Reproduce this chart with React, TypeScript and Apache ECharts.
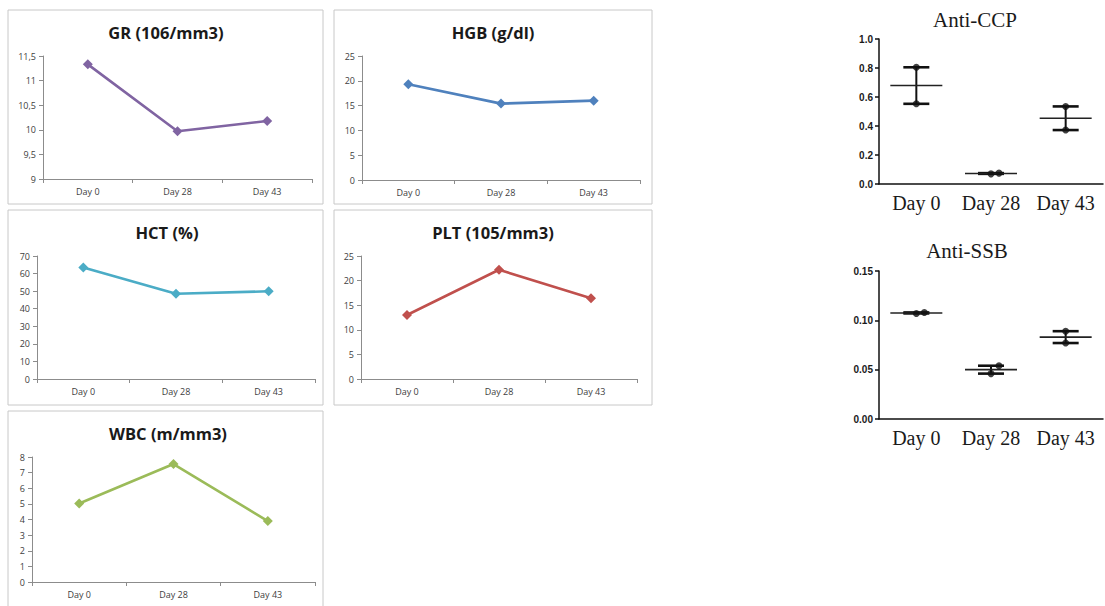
import React, { useEffect, useRef } from "react";
import * as echarts from "echarts";

// Categories shared by every panel
const days = ["Day 0", "Day 28", "Day 43"];

// Blood count series (one value per day)
const grValues = [11.33, 9.97, 10.18];
const hgbValues = [19.3, 15.4, 16.0];
const hctValues = [63.5, 48.5, 49.9];
const pltValues = [13.0, 22.2, 16.4];
const wbcValues = [5.02, 7.55, 3.9];

// Antibody measurements (individual replicates per day)
const antiCcpPoints = [
  [0.805, 0.553],
  [0.07, 0.075],
  [0.535, 0.372],
];
const antiSsbPoints = [
  [0.107, 0.108],
  [0.046, 0.054],
  [0.089, 0.077],
];

// Y-axis scales
const grScale = { min: 9, max: 11.5, interval: 0.5 };
const hgbScale = { min: 0, max: 25, interval: 5 };
const hctScale = { min: 0, max: 70, interval: 10 };
const pltScale = { min: 0, max: 25, interval: 5 };
const wbcScale = { min: 0, max: 8, interval: 1 };
const ccpScale = { min: 0, max: 1, interval: 0.2 };
const ssbScale = { min: 0, max: 0.15, interval: 0.05 };

type LinePanel = {
  title: string;
  values: number[];
  color: string;
  scale: { min: number; max: number; interval: number };
  frame: [number, number, number, number];
  grid: { left: number; top: number; width: number; height: number };
  titlePos: [number, number];
  comma?: boolean;
};

const linePanels: LinePanel[] = [
  {
    title: "GR (106/mm3)",
    values: grValues,
    color: "#8064A2",
    scale: grScale,
    frame: [8, 10, 315, 194],
    grid: { left: 43, top: 56, width: 269, height: 123 },
    titlePos: [166, 32],
    comma: true,
  },
  {
    title: "HGB (g/dl)",
    values: hgbValues,
    color: "#4F81BD",
    scale: hgbScale,
    frame: [334, 10, 318, 194],
    grid: { left: 362, top: 56, width: 278, height: 124 },
    titlePos: [493, 32],
  },
  {
    title: "HCT (%)",
    values: hctValues,
    color: "#4BACC6",
    scale: hctScale,
    frame: [8, 210, 315, 195],
    grid: { left: 37, top: 256, width: 278, height: 123 },
    titlePos: [167, 232],
  },
  {
    title: "PLT (105/mm3)",
    values: pltValues,
    color: "#C0504D",
    scale: pltScale,
    frame: [334, 210, 318, 195],
    grid: { left: 361, top: 256, width: 276, height: 123 },
    titlePos: [493, 232],
  },
  {
    title: "WBC (m/mm3)",
    values: wbcValues,
    color: "#9BBB59",
    scale: wbcScale,
    frame: [8, 411, 315, 220],
    grid: { left: 32, top: 457, width: 283, height: 125 },
    titlePos: [168, 433],
  },
];

type DotPanel = {
  title: string;
  groups: number[][];
  scale: { min: number; max: number; interval: number };
  decimals: number;
  grid: { left: number; top: number; width: number; height: number };
  titlePos: [number, number];
};

const dotPanels: DotPanel[] = [
  {
    title: "Anti-CCP",
    groups: antiCcpPoints,
    scale: ccpScale,
    decimals: 1,
    grid: { left: 879, top: 39, width: 224, height: 145 },
    titlePos: [975, 20],
  },
  {
    title: "Anti-SSB",
    groups: antiSsbPoints,
    scale: ssbScale,
    decimals: 2,
    grid: { left: 879, top: 271, width: 224, height: 148 },
    titlePos: [967, 251],
  },
];

function buildOption() {
  const grid: any[] = [];
  const xAxis: any[] = [];
  const yAxis: any[] = [];
  const series: any[] = [];
  const graphic: any[] = [];

  const excelAxisColor = "#8c8c8c";
  const excelLabel = { fontSize: 9, color: "#404040", fontFamily: "Open Sans" };

  linePanels.forEach((p, i) => {
    grid.push({ ...p.grid });
    xAxis.push({
      type: "category",
      gridIndex: i,
      data: days,
      boundaryGap: true,
      axisLine: { show: true, lineStyle: { color: excelAxisColor, width: 1 } },
      axisTick: { show: true, length: 4, lineStyle: { color: excelAxisColor } },
      axisLabel: { ...excelLabel, margin: 8, interval: 0 },
      splitLine: { show: false },
    });
    yAxis.push({
      type: "value",
      gridIndex: i,
      min: p.scale.min,
      max: p.scale.max,
      interval: p.scale.interval,
      axisLine: { show: true, lineStyle: { color: excelAxisColor, width: 1 } },
      axisTick: { show: true, length: 4, lineStyle: { color: excelAxisColor } },
      axisLabel: {
        ...excelLabel,
        margin: 7,
        formatter: (v: number) => (p.comma ? String(v).replace(".", ",") : String(v)),
      },
      splitLine: { show: false },
    });
    series.push({
      type: "line",
      xAxisIndex: i,
      yAxisIndex: i,
      data: p.values,
      symbol: "diamond",
      symbolSize: 10,
      lineStyle: { color: p.color, width: 2.6 },
      itemStyle: { color: p.color },
    });
    graphic.push({
      type: "rect",
      silent: true,
      shape: { x: p.frame[0], y: p.frame[1], width: p.frame[2], height: p.frame[3] },
      style: { fill: "none", stroke: "#c8c8c8", lineWidth: 1 },
    });
    graphic.push({
      type: "text",
      silent: true,
      x: p.titlePos[0],
      y: p.titlePos[1],
      style: {
        text: p.title,
        fontSize: 16.5,
        fontWeight: "bold",
        fontFamily: "Open Sans",
        fill: "#1a1a1a",
        align: "center",
        verticalAlign: "middle",
      },
    });
  });

  dotPanels.forEach((p, k) => {
    const i = linePanels.length + k;
    const range = p.scale.max - p.scale.min;
    grid.push({ ...p.grid });
    xAxis.push({
      type: "category",
      gridIndex: i,
      data: days,
      boundaryGap: true,
      axisLine: { show: true, lineStyle: { color: "#111", width: 1.5 } },
      axisTick: { show: false },
      axisLabel: {
        fontSize: 20,
        fontFamily: "Liberation Serif",
        color: "#1a1a1a",
        margin: 9,
        interval: 0,
        hideOverlap: false,
      },
      splitLine: { show: false },
    });
    yAxis.push({
      type: "value",
      gridIndex: i,
      min: p.scale.min,
      max: p.scale.max,
      interval: p.scale.interval,
      axisLine: { show: true, lineStyle: { color: "#111", width: 1.5 } },
      axisTick: { show: true, length: 4, lineStyle: { color: "#111", width: 1.5 } },
      axisLabel: {
        fontSize: 10,
        fontWeight: "bold",
        fontFamily: "Liberation Sans",
        color: "#1a1a1a",
        margin: 6,
        formatter: (v: number) => v.toFixed(p.decimals),
      },
      splitLine: { show: false },
    });

    // mean line with min-max whiskers for each day
    const summary = p.groups.map((vals, gi) => {
      const mean = vals.reduce((a, b) => a + b, 0) / vals.length;
      return [gi, Math.min(...vals), Math.max(...vals), mean];
    });
    series.push({
      type: "custom",
      xAxisIndex: i,
      yAxisIndex: i,
      data: summary,
      encode: { x: 0, y: [1, 2, 3] },
      renderItem: (_params: any, api: any) => {
        const gi = api.value(0);
        const lo = api.coord([gi, api.value(1)]);
        const hi = api.coord([gi, api.value(2)]);
        const mid = api.coord([gi, api.value(3)]);
        const x = mid[0];
        const cap = { stroke: "#111", lineWidth: 2.6 };
        return {
          type: "group",
          children: [
            { type: "line", shape: { x1: x, y1: lo[1], x2: x, y2: hi[1] }, style: { stroke: "#111", lineWidth: 2 } },
            { type: "line", shape: { x1: x - 13, y1: lo[1], x2: x + 13, y2: lo[1] }, style: cap },
            { type: "line", shape: { x1: x - 13, y1: hi[1], x2: x + 13, y2: hi[1] }, style: cap },
            { type: "line", shape: { x1: x - 26, y1: mid[1], x2: x + 26, y2: mid[1] }, style: { stroke: "#222", lineWidth: 1.6 } },
          ],
        };
      },
    });

    // individual replicates, nudged sideways when they would overlap
    const dots: any[] = [];
    p.groups.forEach((vals, gi) => {
      vals.forEach((v, j) => {
        const close = j > 0 && Math.abs(v - vals[0]) < range * 0.06;
        dots.push({ value: [gi, v], symbolOffset: [close ? 8 : 0, 0] });
      });
    });
    series.push({
      type: "scatter",
      xAxisIndex: i,
      yAxisIndex: i,
      data: dots,
      symbol: "circle",
      symbolSize: 7,
      itemStyle: { color: "#111" },
      z: 3,
    });

    graphic.push({
      type: "text",
      silent: true,
      x: p.titlePos[0],
      y: p.titlePos[1],
      style: {
        text: p.title,
        fontSize: 21,
        fontFamily: "Liberation Serif",
        fill: "#1a1a1a",
        align: "center",
        verticalAlign: "middle",
      },
    });
  });

  return {
    animation: false,
    backgroundColor: "#ffffff",
    grid,
    xAxis,
    yAxis,
    series,
    graphic,
  };
}

export default function App() {
  const ref = useRef<HTMLDivElement>(null);
  useEffect(() => {
    if (!ref.current) return;
    const chart = echarts.init(ref.current, null, { renderer: "svg" });
    chart.setOption(buildOption() as any);
    return () => chart.dispose();
  }, []);
  return (
    <div
      ref={ref}
      style={{ position: "absolute", left: 0, top: 0, width: 1105, height: 606, background: "#fff" }}
    />
  );
}
